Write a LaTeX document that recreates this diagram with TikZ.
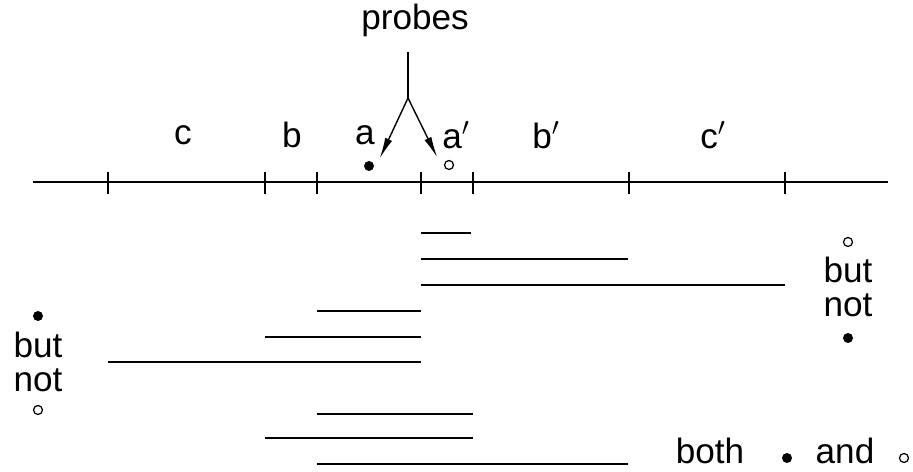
\documentclass[tikz,border=0pt]{standalone}
\usepackage{fontspec}
\setmainfont{Liberation Sans}
\usetikzlibrary{arrows.meta}

\begin{document}
\begin{tikzpicture}[x=0.02cm,y=-0.02cm,line width=0.8pt,
    lbl/.style={inner sep=0pt,font=\fontsize{20}{22}\selectfont},
    fulldot/.style={circle,fill=black,inner sep=0pt,minimum size=0.2cm},
    opendot/.style={circle,draw,line width=0.7pt,inner sep=0pt,minimum size=0.18cm},
    probe/.style={-{Latex[length=0.42cm,width=0.15cm]},shorten >=1pt}]
                        \useasboundingbox (0,0) rectangle (913,472);
                        % Axis and ticks
                        \coordinate (left) at (33,182);
                        \coordinate (right) at (888,182);
                        \draw (left) -- (right);
                        \foreach \x/\n in {108/t1,265/t2,317/t3,421/t4,473/t5,629/t6,785/t7}
                            \draw (\x,172) -- (\x,194) coordinate (\n);

                        % Labels
                        \node[lbl] (c) at (183,135) {c};
                        \node[lbl] (b) at (292,135) {b};
                        \node[lbl] (a) at (365,135) {a};
                        \node[lbl] (ap) at (456,135) {a$'$};
                        \node[lbl] (bp) at (546,135) {b$'$};
                        \node[lbl] (cp) at (713,135) {c$'$};

                        % Probes
                        \node[lbl] (probes) at (415,20) {probes};
                        \coordinate (stem) at (408,52);
                        \coordinate (fork) at (408,98);
                        \coordinate (tipa) at (379,160);
                        \coordinate (tipap) at (438,159);
                        \node[fulldot] (dota) at (369,166) {};
                        \node[opendot] (dotap) at (449,165) {};
                        \draw (stem) -- (fork);
                        \draw[probe] (fork) -- (tipa);
                        \draw[probe] (fork) -- (tipap);

                        % Segments
                        \draw (421,233) -- (471,233);
                        \draw (421,259) -- (628,259);
                        \draw (421,285) -- (785,285);
                        \draw (317,311) -- (421,311);
                        \draw (265,337) -- (421,337);
                        \draw (108,362) -- (421,362);
                        \draw (317,414) -- (473,414);
                        \draw (265,438) -- (473,438);
                        \draw (317,464) -- (628,464);

                        % Legends
                        \node[fulldot] (ldot) at (38,316) {};
                        \node[lbl] (lbut) at (38,345) {but};
                        \node[lbl] (lnot) at (38,380) {not};
                        \node[opendot] (lcirc) at (38,410) {};

                        \node[opendot] (rcirc) at (848,242) {};
                        \node[lbl] (rbut) at (848,270) {but};
                        \node[lbl] (rnot) at (848,305) {not};
                        \node[fulldot] (rdot) at (848,338) {};

                        \node[lbl] (both) at (710,451) {both};
                        \node[fulldot] (bdot) at (787,458) {};
                        \node[lbl] (and) at (845,451) {and};
                        \node[opendot] (bcirc) at (904,458) {};
                    \end{tikzpicture}
\end{document}
